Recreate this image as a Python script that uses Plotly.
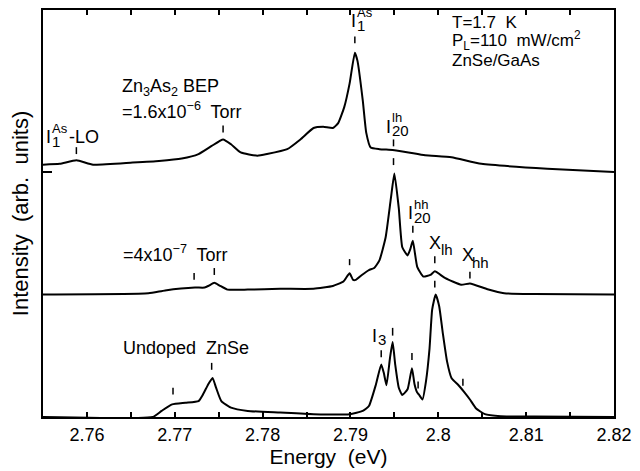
import plotly.graph_objects as go

# Photoluminescence spectra of ZnSe/GaAs at 1.7 K (arbitrary units, offset vertically)
energy_undoped = [2.7550, 2.7675, 2.7685, 2.7697, 2.7712, 2.7727, 2.7732, 2.7738, 2.7743,
                  2.7747, 2.7753, 2.7764, 2.7783, 2.7820, 2.7858, 2.7899, 2.7914, 2.7921,
                  2.7929, 2.7935, 2.7938, 2.7941, 2.7945, 2.7948, 2.7951, 2.7955, 2.7959,
                  2.7965, 2.7970, 2.7973, 2.7976, 2.7978, 2.7982, 2.7986, 2.7990, 2.7993,
                  2.7997, 2.8001, 2.8005, 2.8010, 2.8015, 2.8023, 2.8030, 2.8036, 2.8043,
                  2.8053, 2.8071, 2.8109, 2.8200]
intensity_undoped = [0.00, 0.00, 0.15, 0.31, 0.35, 0.39, 0.55, 0.80, 0.96,
                     0.72, 0.39, 0.23, 0.15, 0.11, 0.07, 0.07, 0.15, 0.27,
                     0.80, 1.29, 1.08, 0.78, 1.45, 1.84, 1.28, 0.72, 0.54,
                     0.68, 1.20, 0.80, 0.60, 0.55, 0.43, 0.88, 1.68, 2.64,
                     3.01, 2.72, 2.08, 1.36, 0.96, 0.78, 0.60, 0.43, 0.21,
                     0.07, 0.02, 0.01, 0.00]

energy_bep_low = [2.7550, 2.7670, 2.7689, 2.7723, 2.7734, 2.7739, 2.7745, 2.7751, 2.7760,
                  2.7783, 2.7820, 2.7858, 2.7880, 2.7892, 2.7899, 2.7903, 2.7906, 2.7913,
                  2.7921, 2.7927, 2.7933, 2.7940, 2.7946, 2.7950, 2.7955, 2.7959, 2.7965,
                  2.7968, 2.7971, 2.7976, 2.7983, 2.7991, 2.7996, 2.8008, 2.8026, 2.8036,
                  2.8056, 2.8075, 2.8109, 2.8200]
intensity_bep_low = [3.01, 3.04, 3.11, 3.18, 3.18, 3.23, 3.30, 3.23, 3.13,
                     3.13, 3.15, 3.15, 3.22, 3.33, 3.53, 3.37, 3.37, 3.49,
                     3.61, 3.66, 3.85, 4.41, 5.37, 5.98, 5.13, 4.17, 3.97,
                     4.12, 4.33, 3.69, 3.45, 3.49, 3.58, 3.41, 3.25, 3.28,
                     3.14, 3.04, 3.02, 3.01]

energy_bep_high = [2.7550, 2.7569, 2.7588, 2.7607, 2.7652, 2.7682, 2.7708, 2.7727, 2.7742,
                   2.7755, 2.7764, 2.7775, 2.7794, 2.7805, 2.7828, 2.7843, 2.7858, 2.7869,
                   2.7880, 2.7886, 2.7893, 2.7899, 2.7905, 2.7908, 2.7914, 2.7918, 2.7923,
                   2.7933, 2.7948, 2.7966, 2.7985, 2.8015, 2.8049, 2.8124, 2.8200]
intensity_bep_high = [6.20, 6.22, 6.31, 6.20, 6.25, 6.29, 6.35, 6.46, 6.66,
                      6.82, 6.70, 6.50, 6.42, 6.46, 6.58, 6.82, 7.10, 7.13,
                      7.10, 7.22, 7.62, 8.19, 8.95, 8.75, 7.78, 6.98, 6.62,
                      6.58, 6.56, 6.50, 6.43, 6.38, 6.22, 6.10, 6.02]

# Energies of the marked lines and the (bottom, top) extent of each marker stroke
line_markers = [
    (2.7588, 6.46, 6.63), (2.7755, 6.99, 7.16), (2.7905, 9.18, 9.35),
    (2.7949, 6.65, 6.82), (2.7949, 6.19, 6.36),
    (2.7722, 3.37, 3.54), (2.7745, 3.49, 3.66), (2.7899, 3.73, 3.88),
    (2.7971, 4.53, 4.70), (2.7996, 3.78, 3.95), (2.7996, 3.18, 3.35),
    (2.8036, 3.40, 3.57),
    (2.7698, 0.55, 0.72), (2.7742, 1.16, 1.33), (2.7935, 1.47, 1.64),
    (2.7948, 2.00, 2.19), (2.7970, 1.40, 1.57), (2.7977, 0.70, 0.87),
    (2.8028, 0.77, 0.94),
]

tick_vals = [2.76, 2.77, 2.78, 2.79, 2.80, 2.81, 2.82]
tick_text = ["2.76", "2.77", "2.78", "2.79", "2.8", "2.81", "2.82"]

FONT = "Liberation Sans, Arial, Helvetica, sans-serif"
fig = go.Figure()
for ex, inten in [(energy_undoped, intensity_undoped),
                  (energy_bep_low, intensity_bep_low),
                  (energy_bep_high, intensity_bep_high)]:
    fig.add_trace(go.Scatter(x=ex, y=inten, mode="lines",
                             line=dict(color="black", width=2, shape="spline", smoothing=0.45),
                             showlegend=False, hoverinfo="skip"))

for e, y0, y1 in line_markers:
    fig.add_shape(type="line", xref="x", yref="y", x0=e, x1=e, y0=y0, y1=y1,
                  line=dict(color="black", width=1.5))


def text(x, y, s, size=18, anchor="left", xshift=0, yshift=0):
    fig.add_annotation(x=x, y=y, text=s, showarrow=False, xanchor=anchor,
                       yanchor="middle", xshift=xshift, yshift=yshift, borderpad=0,
                       font=dict(family=FONT, size=size, color="black"))


def stacked(x, y, base, sup, sub, xoff, size=18):
    # base symbol with superscript and subscript stacked on top of each other
    text(x, y, base, size)
    if sup:
        text(x, y, sup, size - 5, xshift=xoff, yshift=9)
    if sub:
        text(x, y, sub, size - 3, xshift=xoff, yshift=-4)


stacked(2.7552, 6.87, "I", "As", "1", 6)
text(2.7578, 6.89, "-LO")
stacked(2.7900, 9.72, "I", "As", "1", 6)
stacked(2.7939, 7.13, "I", "lh", "20", 6)
stacked(2.7964, 5.01, "I", "hh", "20", 6)
text(2.79886, 4.27, "X")
text(2.8002, 4.12, "lh", 15)
text(2.80257, 3.98, "X")
text(2.8037, 3.79, "hh", 15)
stacked(2.79234, 2.00, "I", None, "3", 6)

text(2.7639, 8.10, "Zn<sub>3</sub>As<sub>2</sub> BEP")
text(2.7639, 7.52, "=1.6x10<sup>\u22126</sup>  Torr")
text(2.7640, 4.02, "=4x10<sup>\u22127</sup>  Torr")
text(2.7640, 1.69, "Undoped  ZnSe")
text(2.8014, 9.69, "T=1.7  K", 17)
text(2.8014, 9.26, "P<sub>L</sub>=110  mW/cm<sup>2</sup>", 17)
text(2.8014, 8.75, "ZnSe/GaAs", 17)

fig.update_xaxes(range=[2.755, 2.82], tickvals=tick_vals, ticktext=tick_text,
                 ticks="inside", ticklen=5, tickwidth=1.5, tickcolor="black",
                 minor=dict(tick0=2.755, dtick=0.005, ticks="inside", ticklen=5,
                            tickwidth=1.5, tickcolor="black", showgrid=False),
                 showline=True, linecolor="black", linewidth=2, mirror="ticks",
                 showgrid=False, zeroline=False,
                 tickfont=dict(family=FONT, size=18, color="black"),
                 title=dict(text="Energy  (eV)", standoff=4,
                            font=dict(family=FONT, size=21, color="black")))
fig.update_yaxes(range=[0, 10], tickvals=[6.02], showticklabels=False,
                 ticks="inside", ticklen=9, tickwidth=1.5, tickcolor="black",
                 showline=True, linecolor="black", linewidth=2, mirror=True,
                 showgrid=False, zeroline=False,
                 title=dict(text="Intensity  (arb.  units)", standoff=6,
                            font=dict(family=FONT, size=22, color="black")))
fig.update_layout(width=640, height=471, margin=dict(l=43, r=19, t=8, b=48),
                  plot_bgcolor="white", paper_bgcolor="white")
fig.write_html("out.html")
